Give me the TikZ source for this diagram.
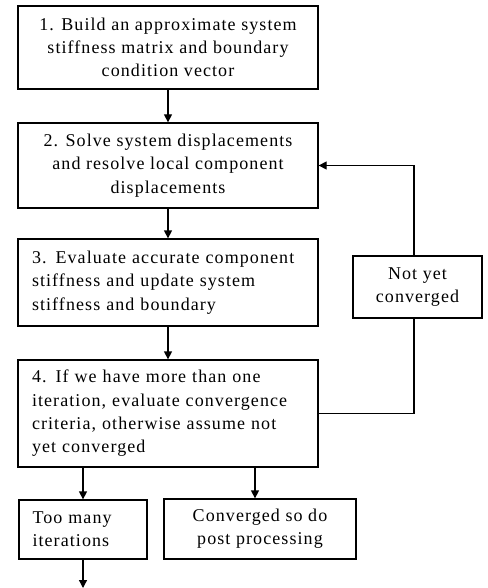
\documentclass[tikz,border=0pt]{standalone}
\usepackage{fontspec}
\setmainfont[LetterSpace=6]{Liberation Serif}
\usetikzlibrary{arrows.meta}
\begin{document}
\begin{tikzpicture}[x=1pt,y=1pt,
  box/.style={draw, line width=1.3pt, inner sep=0pt, font=\fontsize{18}{23.3}\selectfont},
  arr/.style={line width=1.3pt, -{Triangle[length=8pt,width=8pt]}},
  ln/.style={line width=1.3pt}]
\useasboundingbox (0,0) rectangle (487,-588);
\node[box, minimum width=300pt, minimum height=83pt, align=center] (b1) at (168,-47.5)
  {1. Build an approximate system\\stiffness matrix and boundary\\condition vector};
\node[box, minimum width=300pt, minimum height=85pt, align=center] (b2) at (168,-165.5)
  {2. Solve system displacements\\and resolve local component\\displacements};
\node[box, minimum width=300pt, minimum height=87pt, text width=272pt, align=left] (b3) at (168,-282.5)
  {3. Evaluate accurate component\\stiffness and update system\\stiffness and boundary};
\node[box, minimum width=300pt, minimum height=107pt, text width=272pt, align=left] (b4) at (168,-413.5)
  {4. If we have more than one\\iteration, evaluate convergence\\criteria, otherwise assume not\\yet converged};
\node[box, minimum width=129pt, minimum height=62pt, align=center] (ny) at (417.5,-287)
  {Not yet\\converged};
\node[box, minimum width=128pt, minimum height=59pt, text width=101pt, align=left] (tm) at (83,-529.5)
  {Too many\\iterations};
\node[box, minimum width=192pt, minimum height=60pt, align=center] (cv) at (260,-529)
  {Converged so do\\post processing};
\coordinate (fbx) at (414,0);
\coordinate (cvx) at (255,0);
\coordinate (bot) at (83,-588);
\draw[arr] (b1) -- (b2);
\draw[arr] (b2) -- (b3);
\draw[arr] (b3) -- (b4);
\draw[arr] (b4.south -| tm) -- (tm);
\draw[arr] (b4.south -| cvx) -- (cv.north -| cvx);
\draw[ln] (b4.east) -- (b4.east -| fbx) -- (fbx |- ny.south);
\draw[arr] (fbx |- ny.north) -- (fbx |- b2.east) -- (b2.east);
\draw[arr] (tm) -- (bot);
\end{tikzpicture}
\end{document}
